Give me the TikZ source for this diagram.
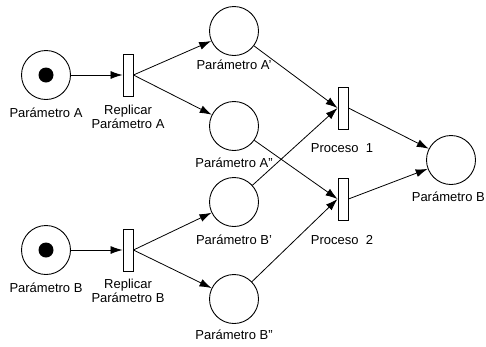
\documentclass[tikz,border=0pt]{standalone}
\usepackage{fontspec}
\setmainfont{Liberation Sans}
\usetikzlibrary{arrows.meta}
\begin{document}
\begin{tikzpicture}[x=1pt,y=-1pt,
  place/.style={circle, draw, minimum size=49pt, inner sep=0pt, line width=0.9pt},
  trans/.style={rectangle, draw, minimum width=10pt, minimum height=42pt, inner sep=0pt, line width=0.9pt},
  lbl/.style={font=\fontsize{13}{14.5}\selectfont, inner sep=0pt, align=center},
  arc/.style={line width=0.8pt, -{Latex[length=12pt,width=8pt]}},
  token/.style={fill=black}]
\useasboundingbox (0,0) rectangle (486,346);
% places
\node[place] (pA) at (46,75) {};
\node[place] (pB) at (46,250) {};
\node[place] (pA1) at (234,31) {};
\node[place] (pA2) at (234,126) {};
\node[place] (pB1) at (234,202) {};
\node[place] (pB2) at (234,299) {};
\node[place] (pOut) at (451,160) {};
\fill[token] (pA) circle (7.5);
\fill[token] (pB) circle (7.5);
% transitions
\node[trans] (rA) at (128,75) {};
\node[trans] (rB) at (128,250) {};
\node[trans] (t1) at (343,108) {};
\node[trans] (t2) at (343,199) {};
% labels
\node[lbl] (lA) at (46,113) {Parámetro A};
\node[lbl] (lB) at (46,288) {Parámetro B};
\node[lbl] (lrA) at (128,117) {Replicar\\Parámetro A};
\node[lbl] (lrB) at (128,291) {Replicar\\Parámetro B};
\node[lbl] (lA1) at (234,65) {Parámetro A'};
\node[lbl] (lA2) at (234,163) {Parámetro A''};
\node[lbl] (lB1) at (234,240) {Parámetro B'};
\node[lbl] (lB2) at (234,335) {Parámetro B''};
\node[lbl] (lt1) at (342,148) {Proceso\ \ 1};
\node[lbl] (lt2) at (342,240) {Proceso\ \ 2};
\node[lbl, anchor=east] (lOut) at (485,197) {Parámetro B};
% arcs
\draw[arc] (pA) -- (rA.west);
\draw[arc] (pB) -- (rB.west);
\draw[arc] (rA.east) -- (pA1);
\draw[arc] (rA.east) -- (pA2);
\draw[arc] (rB.east) -- (pB1);
\draw[arc] (rB.east) -- (pB2);
\draw[arc] (pA1) -- (t1.west);
\draw[arc] (pB1) -- (t1.west);
\draw[arc] (pA2) -- (t2.west);
\draw[arc] (pB2) -- (t2.west);
\draw[arc] (t1.east) -- (pOut);
\draw[arc] (t2.east) -- (pOut);
\end{tikzpicture}
\end{document}
